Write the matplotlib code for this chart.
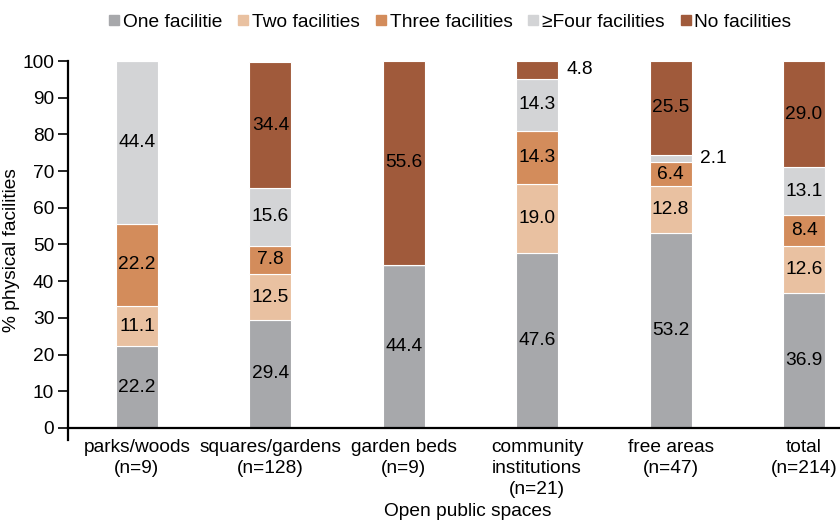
import matplotlib
matplotlib.use("Agg")
import matplotlib.pyplot as plt
from matplotlib.lines import Line2D
import numpy as np

plt.rcParams['font.family'] = ['Liberation Sans', 'DejaVu Sans']

categories = ["parks/woods\n(n=9)", "squares/gardens\n(n=128)", "garden beds\n(n=9)",
              "community\ninstitutions\n(n=21)", "free areas\n(n=47)", "total\n(n=214)"]
series_names = ["One facilitie", "Two facilities", "Three facilities", "\u2265Four facilities", "No facilities"]
one   = [22.2, 29.4, 44.4, 47.6, 53.2, 36.9]
two   = [11.1, 12.5, 0.0, 19.0, 12.8, 12.6]
three = [22.2, 7.8, 0.0, 14.3, 6.4, 8.4]
four  = [44.4, 15.6, 0.0, 14.3, 2.1, 13.1]
none_ = [0.0, 34.4, 55.6, 4.8, 25.5, 29.0]
series = [one, two, three, four, none_]
colors = ["#a7a8ab", "#e9c1a1", "#d38c5b", "#d3d4d6", "#a05a3b"]

W, H = 840, 521
fig = plt.figure(figsize=(W/100, H/100), dpi=100)
ax_l, ax_r, ax_t, ax_b = 68, 868, 61, 440
ax = fig.add_axes([ax_l/W, 1-ax_b/H, (ax_r-ax_l)/W, (ax_b-ax_t)/H])

x = np.arange(len(categories))
bw = 0.315
bottom = np.zeros(len(categories))
fs = 13.8
for vals, col in zip(series, colors):
    v = np.array(vals)
    ax.bar(x, v, bw, bottom=bottom, color=col, edgecolor="white", linewidth=0.8, zorder=2)
    for i, (b, h) in enumerate(zip(bottom, v)):
        if h <= 0:
            continue
        if h < 5:
            ax.text(x[i] + bw/2 + 0.06, b + h/2, f"{h:.1f}", ha="left", va="center", fontsize=fs)
        else:
            ax.text(x[i], b + h/2, f"{h:.1f}", ha="center", va="center", fontsize=fs)
    bottom += v

ax.set_xlim(-0.517, 5.48)
ax.set_ylim(-3.3, 100)
ax.spines['top'].set_visible(False)
ax.spines['right'].set_visible(False)
ax.spines['bottom'].set_position(('data', 0))
ax.spines['left'].set_bounds(-3.3, 100)
ax.spines['left'].set_linewidth(1.6)
ax.spines['bottom'].set_linewidth(1.6)
ax.set_yticks(np.arange(0, 101, 10))
ax.tick_params(axis='y', direction='out', length=7, width=1.2, pad=3, labelsize=fs)
ax.set_xticks(x)
ax.set_xticklabels(categories, fontsize=fs)
for lab in ax.get_xticklabels():
    lab.set_linespacing(1.3)
ax.tick_params(axis='x', length=0, pad=8)
ax.set_ylabel("% physical facilities", fontsize=fs)
ax.yaxis.set_label_coords((20-ax_l)/(ax_r-ax_l), 0.5)
fig.text(468/W, 1-511/H, "Open public spaces", ha="center", va="center", fontsize=fs)

handles = [Line2D([], [], marker='s', linestyle='none', markersize=6.5, color=c) for c in colors]
fig.legend(handles, series_names, loc="center", bbox_to_anchor=(450/W, 1-22/H), ncol=5,
           frameon=False, fontsize=fs, handlelength=0.6, handletextpad=0.15, columnspacing=0.8,
           borderaxespad=0)

fig.savefig("out.png", dpi=100)
